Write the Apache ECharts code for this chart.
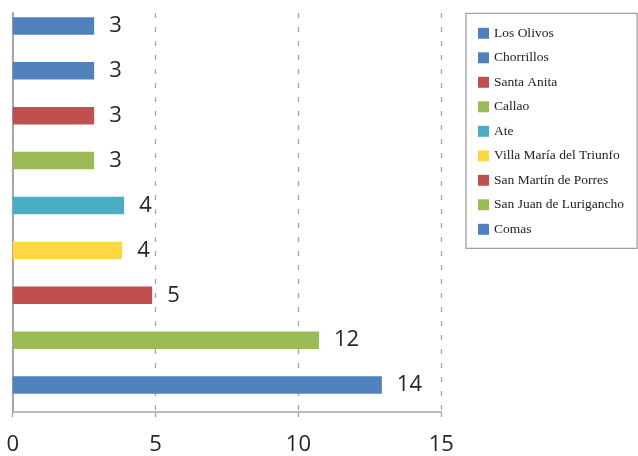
<!DOCTYPE html>
<html>
<head>
<meta charset="utf-8">
<script src="https://cdn.jsdelivr.net/npm/echarts@6/dist/echarts.min.js"></script>
<style>html,body{margin:0;padding:0;background:#fff}#c{width:638px;height:456px}</style>
</head>
<body>
<div id="c"></div>
<script>
const categories = ['Los Olivos', 'Chorrillos', 'Santa Anita', 'Callao', 'Ate', 'Villa María del Triunfo', 'San Martín de Porres', 'San Juan de Lurigancho', 'Comas'];
const barValues = [2.85, 2.85, 2.85, 2.85, 3.9, 3.83, 4.88, 10.72, 12.92];
const valueLabels = ['3', '3', '3', '3', '4', '4', '5', '12', '14'];
const barColors = ['#4F81BD', '#4F81BD', '#C0504D', '#9BBB59', '#4BACC6', '#FFD740', '#C0504D', '#9BBB59', '#4F81BD'];
const xTicks = [0, 5, 10, 15];

const chart = echarts.init(document.getElementById('c'), null, {renderer: 'canvas'});

const series = categories.map((name, i) => ({
  name: name,
  type: 'bar',
  xAxisIndex: 1,
  yAxisIndex: 1,
  barWidth: 17.5,
  barGap: '-100%',
  itemStyle: {color: barColors[i]},
  label: {
    show: true,
    position: 'right',
    distance: 15,
    fontFamily: 'Open Sans',
    fontSize: 22,
    color: '#262626',
    formatter: p => valueLabels[p.dataIndex]
  },
  data: categories.map((c, j) => (j === i ? barValues[j] : null)),
  animation: false
}));

chart.setOption({
  animation: false,
  grid: [
    {left: 12.7, top: 13, width: 428.6, height: 400.3},
    {left: 12.7, top: 3.5, width: 428.6, height: 404}
  ],
  xAxis: [
    {
      type: 'value', gridIndex: 0, min: xTicks[0], max: xTicks[xTicks.length - 1], interval: 5,
      axisLine: {show: true, lineStyle: {color: '#A6A6A6', width: 1.5}},
      axisTick: {show: true, length: 14, lineStyle: {color: '#A6A6A6', width: 1.3, type: [5, 9]}},
      axisLabel: {fontFamily: 'Open Sans', fontSize: 22, color: '#262626', margin: 22},
      splitLine: {show: true, lineStyle: {color: '#A6A6A6', width: 1.3, type: [5, 9]}}
    },
    {
      type: 'value', gridIndex: 1, min: xTicks[0], max: xTicks[xTicks.length - 1], interval: 5,
      show: false, splitLine: {show: false}
    }
  ],
  yAxis: [
    {
      type: 'category', gridIndex: 0, data: categories, inverse: true,
      axisLine: {show: true, lineStyle: {color: '#A6A6A6', width: 2}},
      axisTick: {show: false}, axisLabel: {show: false}, splitLine: {show: false}
    },
    {
      type: 'category', gridIndex: 1, data: categories, inverse: true, show: false
    }
  ],
  legend: {
    orient: 'vertical',
    left: 466,
    top: 13.3,
    padding: [13, 13, 12, 12],
    itemWidth: 11,
    itemHeight: 11,
    itemGap: 10.5,
    itemTextGap: 7,
    icon: 'rect',
    borderColor: '#A0A0A0',
    borderWidth: 1.3,
    textStyle: {fontFamily: 'Liberation Serif', fontSize: 13.5, color: '#222', lineHeight: 12},
    data: categories
  },
  series: series
});
</script>
</body>
</html>
